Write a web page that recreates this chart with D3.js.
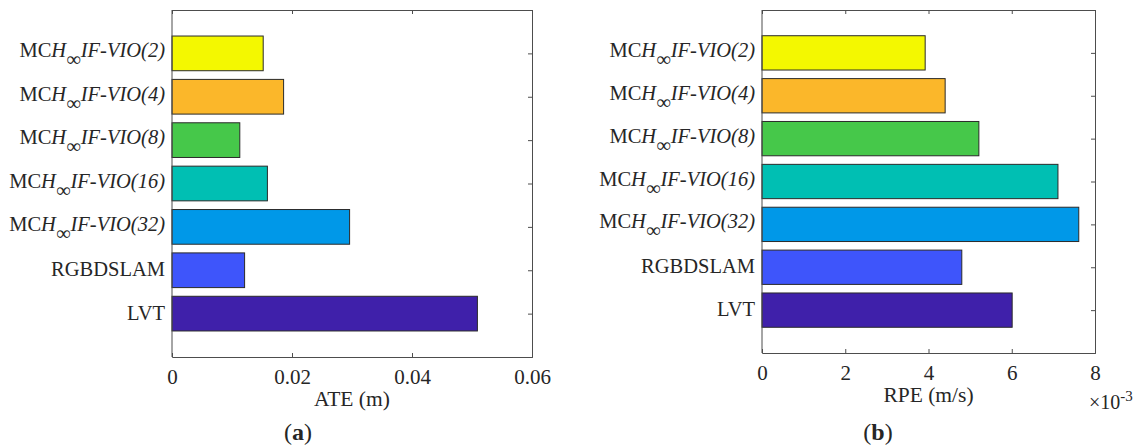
<!DOCTYPE html>
<html>
<head>
<meta charset="utf-8">
<script src="https://cdn.jsdelivr.net/npm/d3@7"></script>
<style>
  html, body { margin: 0; padding: 0; background: #fff; }
  svg { display: block; }
  text { font-family: "Liberation Serif", "DejaVu Serif", serif; fill: #262626; }
</style>
</head>
<body>
<svg id="chart" width="1143" height="448"></svg>
<script>
// Methods, listed top to bottom as drawn
const methods = [
  { base: "MC", sub: "H", tail: "IF-VIO(2)" },
  { base: "MC", sub: "H", tail: "IF-VIO(4)" },
  { base: "MC", sub: "H", tail: "IF-VIO(8)" },
  { base: "MC", sub: "H", tail: "IF-VIO(16)" },
  { base: "MC", sub: "H", tail: "IF-VIO(32)" },
  { base: "RGBDSLAM" },
  { base: "LVT" }
];
const barColors = ["#f4f800", "#fbb72a", "#46c84a", "#00bfb3", "#0098e8", "#3e55fb", "#3f20aa"];

// Absolute trajectory error (m)
const ateValues = [0.0152, 0.0186, 0.0113, 0.0159, 0.0296, 0.0121, 0.0509];
const ateTicks = [0, 0.02, 0.04, 0.06];

// Relative pose error (m/s)
const rpeValues = [0.00392, 0.00440, 0.00521, 0.00711, 0.00761, 0.00480, 0.00601];
const rpeTicks = [0, 0.002, 0.004, 0.006, 0.008];

const FONT = "Liberation Serif, DejaVu Serif, serif";
const svg = d3.select("#chart");

function panel(opts) {
  const x = d3.scaleLinear().domain(opts.domain).range([opts.left, opts.right]);
  const n = methods.length;
  // category k (1 = bottom) sits at y = k, axis spans 0..n+1
  const y = d3.scaleLinear().domain([0, n + 1]).range([opts.bottom, opts.top]);
  const g = svg.append("g");
  const barH = 0.8;

  // bars
  g.selectAll("rect.bar").data(opts.values).enter().append("rect")
    .attr("class", "bar")
    .attr("x", x(0))
    .attr("y", (d, i) => y((n - i) + barH / 2))
    .attr("width", d => x(d) - x(0))
    .attr("height", y(0) - y(barH))
    .attr("fill", (d, i) => barColors[i])
    .attr("stroke", "#2a2a2a")
    .attr("stroke-width", 1);

  // axes (box with inward ticks)
  const bottomAxis = d3.axisBottom(x).tickValues(opts.ticks).tickSize(-4).tickFormat(opts.fmt).tickPadding(12);
  const topAxis = d3.axisTop(x).tickValues(opts.ticks).tickSize(-4).tickFormat("");
  const cats = d3.range(1, n + 1);
  const rightAxis = d3.axisRight(y).tickValues(cats).tickSize(-4).tickFormat("");

  const gb = g.append("g").attr("transform", `translate(0,${opts.bottom})`).call(bottomAxis);
  const gt = g.append("g").attr("transform", `translate(0,${opts.top})`).call(topAxis);
  const gr = g.append("g").attr("transform", `translate(${opts.right},0)`).call(rightAxis);
  [gb, gt, gr].forEach(a => {
    a.attr("font-family", FONT).attr("font-size", 21);
    a.select(".domain").attr("stroke", "#4d4d4d");
    a.selectAll(".tick line").attr("stroke", "#4d4d4d");
  });
  gb.selectAll(".tick text")
    .attr("font-family", FONT)
    .attr("font-size", 21)
    .attr("fill", "#262626");
  // left spine
  g.append("line")
    .attr("x1", x(0)).attr("x2", x(0))
    .attr("y1", opts.top).attr("y2", opts.bottom)
    .attr("stroke", "#4d4d4d");

  // category labels
  methods.forEach((m, i) => {
    const cy = y(n - i);
    const t = g.append("text")
      .attr("x", opts.left - 7)
      .attr("text-anchor", "end")
      .attr("font-family", FONT)
      .attr("font-size", 20.5);
    if (m.tail) {
      t.attr("y", cy + 4);
      t.append("tspan").text(m.base);
      t.append("tspan").attr("font-style", "italic").text(m.sub);
      t.append("tspan").attr("dy", 9).text("\u221E");
      t.append("tspan").attr("dy", -9).attr("font-style", "italic").text(m.tail);
    } else {
      t.attr("y", cy + 6).text(m.base);
    }
  });

  // axis title
  g.append("text")
    .attr("x", (opts.left + opts.right) / 2)
    .attr("y", opts.bottom + 49)
    .attr("text-anchor", "middle")
    .attr("font-family", FONT)
    .attr("font-size", 21.5)
    .text(opts.title);

  // panel letter
  const p = g.append("text")
    .attr("x", opts.letterX)
    .attr("y", 440)
    .attr("text-anchor", "middle")
    .attr("font-family", FONT)
    .attr("font-size", 24);
  p.append("tspan").text("(");
  p.append("tspan").attr("font-weight", "bold").text(opts.letter);
  p.append("tspan").text(")");
  return { g, x, y };
}

panel({
  left: 172, right: 532, top: 10, bottom: 357,
  domain: [0, 0.06], values: ateValues, ticks: ateTicks,
  fmt: d => d === 0 ? "0" : d3.format(".2f")(d),
  title: "ATE (m)", letter: "a", letterX: 298
});

const pb = panel({
  left: 762, right: 1095, top: 10, bottom: 353,
  domain: [0, 0.008], values: rpeValues, ticks: rpeTicks,
  fmt: d => d3.format("d")(Math.round(d * 1000)),
  title: "RPE (m/s)", letter: "b", letterX: 878
});

// exponent note for the RPE axis
const ex = pb.g.append("text")
  .attr("x", 1089)
  .attr("y", 409)
  .attr("font-family", FONT)
  .attr("font-size", 20);
ex.append("tspan").text("\u00D710");
ex.append("tspan").attr("dy", -8).attr("font-size", 15).text("-3");
</script>
</body>
</html>
